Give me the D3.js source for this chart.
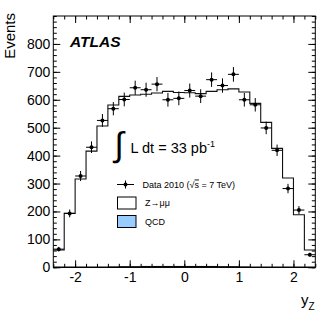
<!DOCTYPE html>
<html>
<head>
<meta charset="utf-8">
<script src="https://d3js.org/d3.v7.min.js"></script>
<style>
  body { margin: 0; background: #fff; }
  svg { font-family: "Liberation Sans", Arial, Helvetica, sans-serif; }
</style>
</head>
<body>
<div id="chart"></div>
<script>
// bin centres of the rapidity histogram (bin width 0.2)
var binCentres = [-2.3, -2.1, -1.9, -1.7, -1.5, -1.3, -1.1, -0.9, -0.7, -0.5, -0.3, -0.1,
                  0.1, 0.3, 0.5, 0.7, 0.9, 1.1, 1.3, 1.5, 1.7, 1.9, 2.1, 2.3];
var binWidth = 0.2;

// Data 2010
var dataEvents = [65, 193, 327, 430, 526, 568, 601, 643, 636, 656, 600, 605,
                  633, 613, 672, 651, 691, 600, 582, 499, 419, 282, 205, 45];

// Z->mumu expectation
var zmumu = [62, 193, 316, 416, 506, 581, 612, 617, 620, 624, 630, 626,
             625, 622, 630, 636, 639, 628, 587, 519, 426, 320, 188, 62];

// QCD background (tiny)
var qcd = [0, 0, 0, 0, 0, 1, 2, 2, 3, 3, 3, 3,
           3, 3, 3, 2, 2, 1, 0, 0, 0, 0, 0, 0];

var xTicks = [-2, -1, 0, 1, 2];
var yTicks = [0, 100, 200, 300, 400, 500, 600, 700, 800];

var width = 332,
    height = 319;

// plot frame (note: "top" is reserved on window, so use plotXxx)
var plotLeft = 53.3, plotRight = 315.3, plotTop = 16, plotBottom = 267.3;

var svg = d3.select("#chart")
    .append("svg")
    .attr("width", width)
    .attr("height", height);

var x = d3.scaleLinear().domain([-2.4, 2.4]).range([plotLeft, plotRight]);
var y = d3.scaleLinear().domain([0, 900]).range([plotBottom, plotTop]);

// step outline points from bin values
function steps(vals) {
    var pts = [];
    vals.forEach(function(v, i) {
        pts.push([binCentres[i] - binWidth / 2, v]);
    });
    pts.push([binCentres[binCentres.length - 1] + binWidth / 2, vals[vals.length - 1]]);
    return pts;
}

// Z->mumu histogram
var line = d3.line()
    .x(function(d) { return x(d[0]); })
    .y(function(d) { return y(d[1]); })
    .curve(d3.curveStepAfter);

svg.append("path")
    .datum(steps(zmumu))
    .attr("d", line)
    .style("fill", "none")
    .style("stroke", "#111")
    .style("stroke-width", 1.1);

// QCD histogram
var area = d3.area()
    .x(function(d) { return x(d[0]); })
    .y0(y(0))
    .y1(function(d) { return y(d[1]); })
    .curve(d3.curveStepAfter);

svg.append("path")
    .datum(steps(qcd))
    .attr("d", area)
    .style("fill", "#99ccff")
    .style("stroke", "#000")
    .style("stroke-width", 1);

// data points with errors
var pts = svg.append("g")
    .attr("class", "points")
    .selectAll("g")
    .data(dataEvents)
    .enter().append("g");

pts.append("line")
    .attr("x1", function(d, i) { return x(binCentres[i] - binWidth / 2); })
    .attr("x2", function(d, i) { return x(binCentres[i] + binWidth / 2); })
    .attr("y1", function(d) { return y(d); })
    .attr("y2", function(d) { return y(d); })
    .style("stroke", "#000")
    .style("stroke-width", 1);

pts.append("line")
    .attr("x1", function(d, i) { return x(binCentres[i]); })
    .attr("x2", function(d, i) { return x(binCentres[i]); })
    .attr("y1", function(d) { return y(d - Math.sqrt(d)); })
    .attr("y2", function(d) { return y(Math.min(900, d + Math.sqrt(d))); })
    .style("stroke", "#000")
    .style("stroke-width", 1);

pts.append("circle")
    .attr("cx", function(d, i) { return x(binCentres[i]); })
    .attr("cy", function(d) { return y(d); })
    .attr("r", 2)
    .style("fill", "#000");

// frame
svg.append("rect")
    .attr("x", plotLeft)
    .attr("y", plotTop)
    .attr("width", plotRight - plotLeft)
    .attr("height", plotBottom - plotTop)
    .style("fill", "none")
    .style("stroke", "#000")
    .style("stroke-width", 1);

// axes, ticks pointing inwards
var xMinor = d3.range(-24, 25, 2).map(function(d) { return d / 10; });
var yMinor = d3.range(0, 901, 20);
var fmt = function(d) { return String(d); };

function styleAxis(g) {
    g.select(".domain").remove();
    g.selectAll("line").style("stroke", "#000");
    g.selectAll("text").style("font-size", "14px").style("fill", "#000");
}

svg.append("g").attr("transform", "translate(0," + plotBottom + ")")
    .call(d3.axisBottom(x).tickValues(xMinor).tickFormat("").tickSizeInner(-3.5).tickSizeOuter(0))
    .call(styleAxis);
svg.append("g").attr("transform", "translate(0," + plotBottom + ")")
    .call(d3.axisBottom(x).tickValues(xTicks).tickFormat(fmt).tickSizeInner(-7).tickSizeOuter(0).tickPadding(5))
    .call(styleAxis);
svg.append("g").attr("transform", "translate(0," + plotTop + ")")
    .call(d3.axisTop(x).tickValues(xMinor).tickFormat("").tickSizeInner(-3.5).tickSizeOuter(0))
    .call(styleAxis);
svg.append("g").attr("transform", "translate(0," + plotTop + ")")
    .call(d3.axisTop(x).tickValues(xTicks).tickFormat("").tickSizeInner(-7).tickSizeOuter(0))
    .call(styleAxis);

svg.append("g").attr("transform", "translate(" + plotLeft + ",0)")
    .call(d3.axisLeft(y).tickValues(yMinor).tickFormat("").tickSizeInner(-3.5).tickSizeOuter(0))
    .call(styleAxis);
svg.append("g").attr("transform", "translate(" + plotLeft + ",0)")
    .call(d3.axisLeft(y).tickValues(yTicks).tickFormat(fmt).tickSizeInner(-7).tickSizeOuter(0).tickPadding(3))
    .call(styleAxis);
svg.append("g").attr("transform", "translate(" + plotRight + ",0)")
    .call(d3.axisRight(y).tickValues(yMinor).tickFormat("").tickSizeInner(-3.5).tickSizeOuter(0))
    .call(styleAxis);
svg.append("g").attr("transform", "translate(" + plotRight + ",0)")
    .call(d3.axisRight(y).tickValues(yTicks).tickFormat("").tickSizeInner(-7).tickSizeOuter(0))
    .call(styleAxis);

// axis titles
svg.append("text")
    .attr("transform", "translate(15,13) rotate(-90)")
    .attr("text-anchor", "end")
    .style("font-size", "15px")
    .text("Events");

var yz = svg.append("text")
    .attr("x", 301)
    .attr("y", 305)
    .style("font-size", "15px");
yz.append("tspan").text("y");
yz.append("tspan").attr("dy", 5).style("font-size", "10px").text("Z");

// ATLAS label
svg.append("text")
    .attr("x", 70)
    .attr("y", 47)
    .style("font-size", "15.5px")
    .style("font-weight", "bold")
    .style("font-style", "italic")
    .text("ATLAS");

// luminosity
svg.append("text")
    .attr("x", 114.5)
    .attr("y", 156)
    .style("font-size", "34px")
    .text("\u222B");

var lumi = svg.append("text")
    .attr("x", 130.5)
    .attr("y", 153)
    .style("font-size", "14.5px");
lumi.append("tspan").text("L dt = 33 pb");
lumi.append("tspan").attr("dy", -6).style("font-size", "9px").text("-1");

// legend
var lg = svg.append("g").attr("class", "legend");

lg.append("line")
    .attr("x1", 117).attr("x2", 134)
    .attr("y1", 184.5).attr("y2", 184.5)
    .style("stroke", "#000");
lg.append("line")
    .attr("x1", 125.5).attr("x2", 125.5)
    .attr("y1", 180.5).attr("y2", 188.5)
    .style("stroke", "#000");
lg.append("circle")
    .attr("cx", 125.5).attr("cy", 184.5).attr("r", 2)
    .style("fill", "#000");

var dt = lg.append("text")
    .attr("x", 142.5).attr("y", 187.5)
    .style("font-size", "9px");
dt.append("tspan").text("Data 2010 (\u221A");
dt.append("tspan").style("text-decoration", "overline").text("s");
dt.append("tspan").text(" = 7 TeV)");

lg.append("rect")
    .attr("x", 117.5).attr("y", 197)
    .attr("width", 18.5).attr("height", 12)
    .style("fill", "#fff")
    .style("stroke", "#000");
lg.append("text")
    .attr("x", 145).attr("y", 206)
    .style("font-size", "9px")
    .text("Z\u2192\u03BC\u03BC");

lg.append("rect")
    .attr("x", 117.5).attr("y", 215.5)
    .attr("width", 18.5).attr("height", 12)
    .style("fill", "#99ccff")
    .style("stroke", "#000");
lg.append("text")
    .attr("x", 145).attr("y", 224.5)
    .style("font-size", "9px")
    .text("QCD");
</script>
</body>
</html>
